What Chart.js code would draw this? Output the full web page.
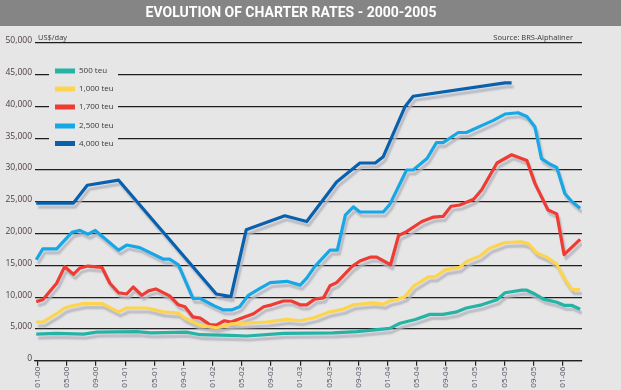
<!DOCTYPE html>
<html><head><meta charset="utf-8">
<script src="https://cdn.jsdelivr.net/npm/chart.js@4.4.1/dist/chart.umd.min.js"></script>
<style>html,body{margin:0;padding:0;background:#e6e6e6;overflow:hidden}#wrap{width:621px;height:390px;position:relative}</style>
</head><body><div id="wrap"><canvas id="c" width="621" height="390"></canvas></div>
<script>
// Tick labels (month-year), one every 4 months starting Jan 2000
const tickLabels = ['01-00','05-00','09-00','01-01','05-01','09-01','01-02','05-02','09-02','01-03','05-03','09-03','01-04','05-04','09-04','01-05','05-05','09-05','01-06'];
const seriesNames = ['500 teu','1,000 teu','1,700 teu','2,500 teu','4,000 teu'];

// months since Jan 2000 / rates in US$/day
const months500 = [-0.2,2.6,6.3,8.1,13.6,15.5,20.4,22.3,26.4,28.7,33.7,40.5,43.8,48.3,49.7,51.8,53.8,55.6,57.5,58.8,60.9,63,64.1,66.4,67.1,68.2,69.4,71.2,72.3,73.3,74.4];
const rates500 = [4200,4300,4200,4500,4600,4400,4500,4100,4000,3900,4300,4400,4600,5100,5900,6500,7300,7300,7700,8300,8800,9600,10700,11100,11100,10500,9700,9200,8700,8700,8100];

const months1000 = [-0.2,0.7,2.6,3.7,4.6,6.3,8.8,11.1,12.2,15,17.2,19.3,20.2,22.3,24.5,26.6,31.4,34.2,36,38,40.1,41.9,43.3,46,47.4,48.3,49.5,50.4,51.5,53.6,54.5,55.9,57.9,58.8,60.7,62,64.1,66.4,67.3,68.4,69.8,71.2,72.3,73.3,74.4];
const rates1000 = [6100,6100,7400,8300,8600,9000,9000,7700,8300,8300,7700,7500,6700,5600,5200,5800,6100,6500,6300,6800,7700,8100,8800,9100,8900,9400,9700,10100,11700,13200,13200,14300,14700,15600,16500,17700,18600,18700,18400,17000,16300,15200,12800,11200,11200];

const months1700 = [-0.2,0.7,2.6,3.7,4.9,5.8,6.9,8.8,9.9,11.1,12.2,13.1,14.3,15.2,16.2,18.1,19.3,20.2,21.3,22.3,23.6,24.5,25.6,26.5,28.2,29.6,31,32.1,33.7,34.8,36,36.9,38,39.2,40.1,41,43.1,44.2,45.6,46.5,48.4,49.5,50.6,52.7,54.3,55.6,56.7,57.9,59.8,60.9,63,65,67.1,68.2,70,71.2,72.2,74.4];
const rates1700 = [9300,9600,12200,14800,13600,14600,14900,14700,12200,10700,10500,11600,10300,11000,11300,10200,8800,8500,6900,6700,5700,5600,6300,6100,6800,7400,8500,8800,9400,9400,8800,8800,9700,9900,11800,12300,14800,15700,16300,16300,15100,19700,20300,21900,22600,22700,24300,24500,25400,26900,31100,32400,31500,27900,23700,23100,16700,19100];

const months2500 = [-0.2,0.7,2.6,4.7,5.8,6.9,7.9,11.1,12.2,14,17.2,18.1,19.3,21.3,22.3,24.3,25.5,26.6,27.7,28.9,30.5,31.9,34.2,36,36.9,38,40.1,41.1,42.2,43.3,44.2,47.4,48.3,50.6,51.5,53.4,54.7,55.6,57.7,58.8,62.5,64.1,65.9,67.1,68.2,69.1,70.3,71.2,72.3,73.3,74.4];
const rates2500 = [15900,17600,17600,20200,20500,19900,20500,17400,18200,17800,16000,16000,15100,9800,9800,8600,8000,8000,8500,10300,11400,12300,12500,11900,13000,14800,17400,17400,22900,24200,23400,23400,24600,30000,30000,31800,34300,34300,35900,35900,37800,38800,39000,38400,36800,31800,30900,30400,26300,25000,24000];

const months4000 = [-0.2,4.9,6.8,11.1,24.5,26.5,28.6,33.9,36.9,41.0,44.2,46.3,47.4,50.4,51.5,64.1,65.0];
const rates4000 = [24800,24800,27600,28400,10500,10100,20600,22800,21900,28100,31100,31100,32100,40000,41600,43700,43700];

const seriesColors = ['#25b3a6','#fdd44d','#ee3b33','#18a7e6','#0961ae'];

const allMonths = [months500, months1000, months1700, months2500, months4000];
const allRates = [rates500, rates1000, rates1700, rates2500, rates4000];

const datasets = seriesNames.map((name, i) => ({
  label: name,
  data: allMonths[i].map((m, j) => ({x: m, y: allRates[i][j]})),
  borderColor: seriesColors[i],
  backgroundColor: seriesColors[i],
  borderWidth: 3.2,
  pointRadius: 0,
  tension: 0,
  borderJoinStyle: 'round',
  borderCapStyle: 'butt',
  fill: false
}));

const BG = '#e6e6e6';

const decorPlugin = {
  id: 'decor',
  beforeDraw(chart) {
    const ctx = chart.ctx;
    ctx.save();
    ctx.fillStyle = BG;
    ctx.fillRect(0, 0, chart.width, chart.height);
    ctx.fillStyle = '#858585';
    ctx.fillRect(0, 0, chart.width, 26);
    ctx.restore();
  },
  beforeDatasetDraw(chart) {
    const ctx = chart.ctx;
    ctx.save();
    ctx.shadowColor = 'rgba(180,180,190,0.85)';
    ctx.shadowOffsetX = 2;
    ctx.shadowOffsetY = 4;
    ctx.shadowBlur = 1.5;
  },
  afterDatasetDraw(chart) {
    chart.ctx.restore();
  },
  afterDatasetsDraw(chart) {
    const ctx = chart.ctx;
    const area = chart.chartArea;
    ctx.save();
    // legend block (interrupts gridlines)
    ctx.fillStyle = BG;
    ctx.fillRect(area.left + 14, 62, 69, 90);
    const ys = [71, 89, 107, 126, 143.5];
    ctx.font = '8px "Open Sans", sans-serif';
    ctx.textBaseline = 'middle';
    ctx.textAlign = 'left';
    chart.data.datasets.forEach((ds, i) => {
      ctx.fillStyle = ds.borderColor;
      ctx.fillRect(55, ys[i] - 2.5, 20, 5);
      ctx.fillStyle = '#3a3a3a';
      ctx.fillText(ds.label, 79, ys[i]);
    });
    // unit and source
    ctx.font = '7.5px "Open Sans", sans-serif';
    ctx.textBaseline = 'alphabetic';
    ctx.fillStyle = '#3a3a3a';
    ctx.fillText('US$/day', 38, 40);
    ctx.textAlign = 'right';
    ctx.fillText('Source: BRS-Alphaliner', 573, 40);
    ctx.restore();
  }
};

new Chart(document.getElementById('c'), {
  type: 'line',
  data: { datasets },
  plugins: [decorPlugin],
  options: {
    responsive: false,
    animation: false,
    devicePixelRatio: 1,
    layout: { padding: { left: 0, right: 39, top: 0, bottom: 0 } },
    plugins: {
      legend: { display: false },
      tooltip: { enabled: false },
      title: {
        display: true,
        text: 'EVOLUTION OF CHARTER RATES - 2000-2005',
        color: '#ffffff',
        font: { family: 'Roboto', size: 14, weight: 'bold', lineHeight: 1.2 },
        padding: { top: 5, bottom: 21 }
      }
    },
    scales: {
      x: {
        type: 'linear',
        min: -0.37,
        max: 74.66,
        afterBuildTicks: (scale) => { scale.ticks = tickLabels.map((_, i) => ({ value: i * 4 })); },
        afterFit: (scale) => { scale.height = 29.2; },
        ticks: {
          autoSkip: false,
          minRotation: 90,
          maxRotation: 90,
          padding: 1,
          color: '#4a4a5a',
          font: { family: '"Open Sans", sans-serif', size: 8 },
          callback: (v) => tickLabels[Math.round(v / 4)]
        },
        grid: { drawOnChartArea: false, drawTicks: true, tickLength: 5, color: '#222222', lineWidth: 1.2 },
        border: { display: true, color: '#222222', width: 1.3 }
      },
      y: {
        min: 0,
        max: 50000,
        afterFit: (scale) => { scale.width = 35; },
        ticks: {
          stepSize: 5000,
          padding: 3,
          labelOffset: -2,
          color: '#4b3e3e',
          font: { family: '"Open Sans", sans-serif', size: 8.5 },
          callback: (v) => v.toLocaleString('en-US')
        },
        grid: { drawTicks: false, color: '#1e1e1e', lineWidth: 1.3 },
        border: { display: false }
      }
    }
  }
});
</script></body></html>
